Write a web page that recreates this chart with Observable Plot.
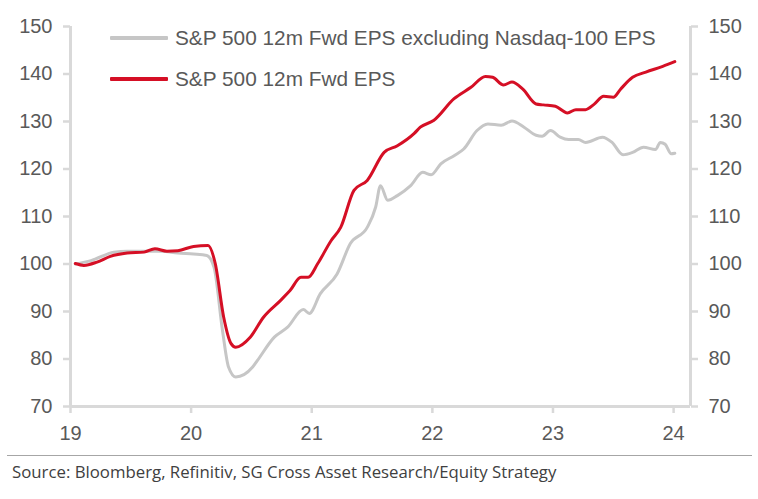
<!DOCTYPE html>
<html>
<head>
<meta charset="utf-8">
<script src="https://cdn.jsdelivr.net/npm/d3@7"></script>
<script src="https://cdn.jsdelivr.net/npm/@observablehq/plot@0.6"></script>
<style>
  html, body { margin: 0; padding: 0; background: #fff; }
  #wrap { position: relative; width: 758px; height: 499px; }
  .leg { position: absolute; left: 110px; display: flex; align-items: center; font-family: "Liberation Sans", Arial, sans-serif; font-size: 20.8px; color: #595959; white-space: nowrap; }
  .leg .sw { width: 58px; height: 4px; margin-right: 7px; border-radius: 1px; }
  #cap { position: absolute; left: 7px; top: 455px; width: 745px; border-top: 1px solid #a6a6a6; font-family: "Open Sans", sans-serif; font-size: 16.8px; color: #404040; padding-top: 4px; padding-left: 5px; box-sizing: border-box; white-space: nowrap; }
</style>
</head>
<body>
<div id="wrap"></div>
<script>
// Series names
const seriesNames = ["S&P 500 12m Fwd EPS excluding Nasdaq-100 EPS", "S&P 500 12m Fwd EPS"];
const seriesColors = ["#c6c6c6", "#d50f25"];

// Red series: S&P 500 12m Fwd EPS (rebased, x = fractional year)
const redX = [2019.04, 2019.11, 2019.22, 2019.33, 2019.47, 2019.61, 2019.70, 2019.80, 2019.89, 2020.02, 2020.14,
  2020.20, 2020.27, 2020.33, 2020.37, 2020.49, 2020.60, 2020.74, 2020.82, 2020.91, 2020.97, 2021.05, 2021.16,
  2021.24, 2021.35, 2021.46, 2021.60, 2021.71, 2021.85, 2021.90, 2022.01, 2022.18, 2022.32, 2022.44, 2022.50,
  2022.59, 2022.66, 2022.75, 2022.86, 2022.92, 2023.02, 2023.12, 2023.19, 2023.27, 2023.34, 2023.42, 2023.50,
  2023.56, 2023.66, 2023.77, 2023.91, 2024.01];
const redY = [100.1, 99.7, 100.4, 101.6, 102.3, 102.5, 103.2, 102.7, 102.8, 103.7, 103.9,
  100.1, 88.8, 83.3, 82.5, 84.6, 88.8, 92.3, 94.4, 97.2, 97.2, 100.1, 104.9,
  107.7, 115.5, 117.6, 123.5, 124.9, 127.5, 128.8, 130.2, 134.8, 137.2, 139.5, 139.3,
  137.7, 138.3, 136.8, 133.7, 133.5, 133.2, 131.8, 132.5, 132.5, 133.6, 135.3, 135.1,
  136.8, 139.3, 140.4, 141.6, 142.6];

// Gray series: S&P 500 12m Fwd EPS excluding Nasdaq-100 EPS
const grayX = [2019.04, 2019.17, 2019.36, 2019.47, 2019.75, 2019.89, 2020.02, 2020.13, 2020.19, 2020.26, 2020.31,
  2020.37, 2020.51, 2020.55, 2020.69, 2020.80, 2020.93, 2020.98, 2021.07, 2021.21, 2021.32, 2021.46, 2021.53,
  2021.57, 2021.63, 2021.71, 2021.82, 2021.92, 2021.99, 2022.07, 2022.18, 2022.26, 2022.37, 2022.46, 2022.57,
  2022.66, 2022.76, 2022.86, 2022.91, 2022.98, 2023.06, 2023.13, 2023.21, 2023.27, 2023.41, 2023.49, 2023.58,
  2023.66, 2023.75, 2023.85, 2023.89, 2023.93, 2023.98, 2024.01];
const grayY = [100.0, 100.7, 102.5, 102.7, 102.7, 102.3, 102.1, 101.8, 99.3, 86.0, 78.3,
  76.2, 78.3, 79.7, 84.6, 86.7, 90.4, 89.6, 93.7, 97.9, 104.3, 107.7, 112.0,
  116.5, 113.4, 114.4, 116.5, 119.3, 118.8, 121.1, 122.8, 124.2, 128.1, 129.5, 129.2,
  130.1, 128.8, 127.1, 126.9, 128.1, 126.7, 126.2, 126.2, 125.6, 126.7, 125.6, 123.0,
  123.5, 124.6, 124.1, 125.6, 125.2, 123.2, 123.3];

// Ticks
const xTicks = [2019, 2020, 2021, 2022, 2023, 2024];
const xTickLabels = ["19", "20", "21", "22", "23", "24"];
const yTicks = [70, 80, 90, 100, 110, 120, 130, 140, 150];

const red = redX.map((x, i) => ({x, y: redY[i]}));
const gray = grayX.map((x, i) => ({x, y: grayY[i]}));

const axisColor = "#d9d9d9";
const xMin = 2019, xMax = 2024.14, yMin = 70, yMax = 150;

const chart = Plot.plot({
  width: 758,
  height: 450,
  marginLeft: 70,
  marginRight: 68,
  marginTop: 26,
  marginBottom: 44,
  style: {fontFamily: "'Liberation Sans', Arial, sans-serif", fontSize: "20px", color: "#595959", background: "#fff"},
  x: {domain: [xMin, xMax]},
  y: {domain: [yMin, yMax]},
  marks: [
    Plot.axisY(yTicks, {anchor: "left", tickSize: 7, tickPadding: 11, stroke: axisColor, strokeWidth: 2.5, fill: "#595959", label: null}),
    Plot.axisY(yTicks, {anchor: "right", tickSize: 7, tickPadding: 11, stroke: axisColor, strokeWidth: 2.5, fill: "#595959", label: null}),
    Plot.axisX(xTicks, {anchor: "bottom", tickSize: 7, tickPadding: 12, stroke: axisColor, strokeWidth: 2.5, fill: "#595959", label: null, tickFormat: (d) => xTickLabels[xTicks.indexOf(d)]}),
    Plot.ruleX([xMin], {stroke: axisColor, strokeWidth: 3}),
    Plot.ruleX([xMax], {stroke: axisColor, strokeWidth: 3}),
    Plot.ruleY([yMin], {stroke: axisColor, strokeWidth: 3}),
    Plot.line(gray, {x: "x", y: "y", stroke: seriesColors[0], strokeWidth: 3, curve: "monotone-x"}),
    Plot.line(red, {x: "x", y: "y", stroke: seriesColors[1], strokeWidth: 3, curve: "monotone-x"})
  ]
});

const wrap = document.getElementById("wrap");
wrap.appendChild(chart);

// Legend (inside plot area)
const legTops = [26, 67];
seriesNames.forEach((name, i) => {
  const d = document.createElement("div");
  d.className = "leg";
  d.style.top = legTops[i] + "px";
  d.innerHTML = `<span class="sw" style="background:${seriesColors[i]}"></span><span></span>`;
  d.lastChild.textContent = name;
  wrap.appendChild(d);
});

const cap = document.createElement("div");
cap.id = "cap";
cap.textContent = "Source: Bloomberg, Refinitiv, SG Cross Asset Research/Equity Strategy";
wrap.appendChild(cap);
</script>
</body>
</html>
